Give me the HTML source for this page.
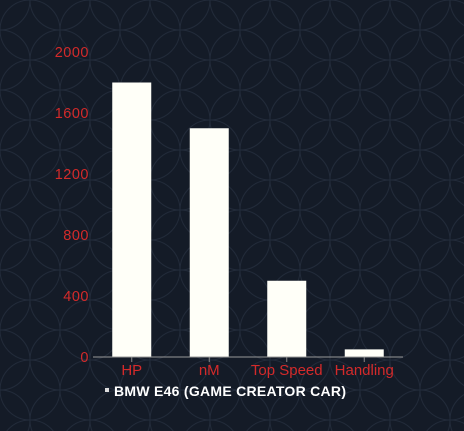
<!DOCTYPE html>
<html><head><meta charset="utf-8"><style>
html,body{margin:0;padding:0;background:#141b27;width:464px;height:431px;overflow:hidden}
svg{display:block}
text{font-family:"Liberation Sans",sans-serif}
</style></head><body>
<svg id="c" width="464" height="431">
<defs><pattern id="p" width="60" height="60" patternUnits="userSpaceOnUse">
<circle cx="0" cy="0" r="30" fill="none" stroke="#222b3a" stroke-width="1"/>
<circle cx="60" cy="0" r="30" fill="none" stroke="#222b3a" stroke-width="1"/>
<circle cx="0" cy="60" r="30" fill="none" stroke="#222b3a" stroke-width="1"/>
<circle cx="60" cy="60" r="30" fill="none" stroke="#222b3a" stroke-width="1"/>
<circle cx="30" cy="30" r="30" fill="none" stroke="#222b3a" stroke-width="1"/>
</pattern></defs>
<rect width="464" height="431" fill="url(#p)"/>
</svg>
<script>
const categories=["HP","nM","Top Speed","Handling"];
const values=[1800,1500,500,50];
const ticks=[0,400,800,1200,1600,2000];
const svg=document.getElementById('c');const NS='http://www.w3.org/2000/svg';
const x0=93,x1=403,y0=357,yTop=52,maxV=2000;
const band=(x1-x0)/categories.length;
const y=v=>y0-(v/maxV)*(y0-yTop);
const xc=i=>x0+band*(i+0.5);
function mk(t,a){const e=document.createElementNS(NS,t);for(const k in a)e.setAttribute(k,a[k]);svg.appendChild(e);return e;}
ticks.forEach(t=>{const e=mk('text',{x:89,y:y(t)+5,'text-anchor':'end','font-size':'14.5',fill:'#d42a2a','letter-spacing':'0.5'});e.textContent=t;

});
categories.forEach((c,i)=>{
const b=mk('rect',{x:xc(i)-19.5,y:y(values[i]),width:39,height:y0-y(values[i]),fill:'#fffff8'});


mk('line',{x1:xc(i),x2:xc(i),y1:y0,y2:y0+5,stroke:'#888'});
const t=mk('text',{x:xc(i),y:375,'text-anchor':'middle','font-size':'15',fill:'#d42a2a'});t.textContent=c;


});
const ax=mk('line',{x1:x0,x2:x1,y1:y0,y2:y0,stroke:'#999','stroke-width':1});


const ls=mk('rect',{x:105,y:388,width:4,height:4,fill:'#ddd'});


const lt=mk('text',{x:114,y:396,'font-size':'14','font-weight':'bold',fill:'#fff','textLength':'232'});lt.textContent='BMW E46 (GAME CREATOR CAR)';


</script>
</body></html>
